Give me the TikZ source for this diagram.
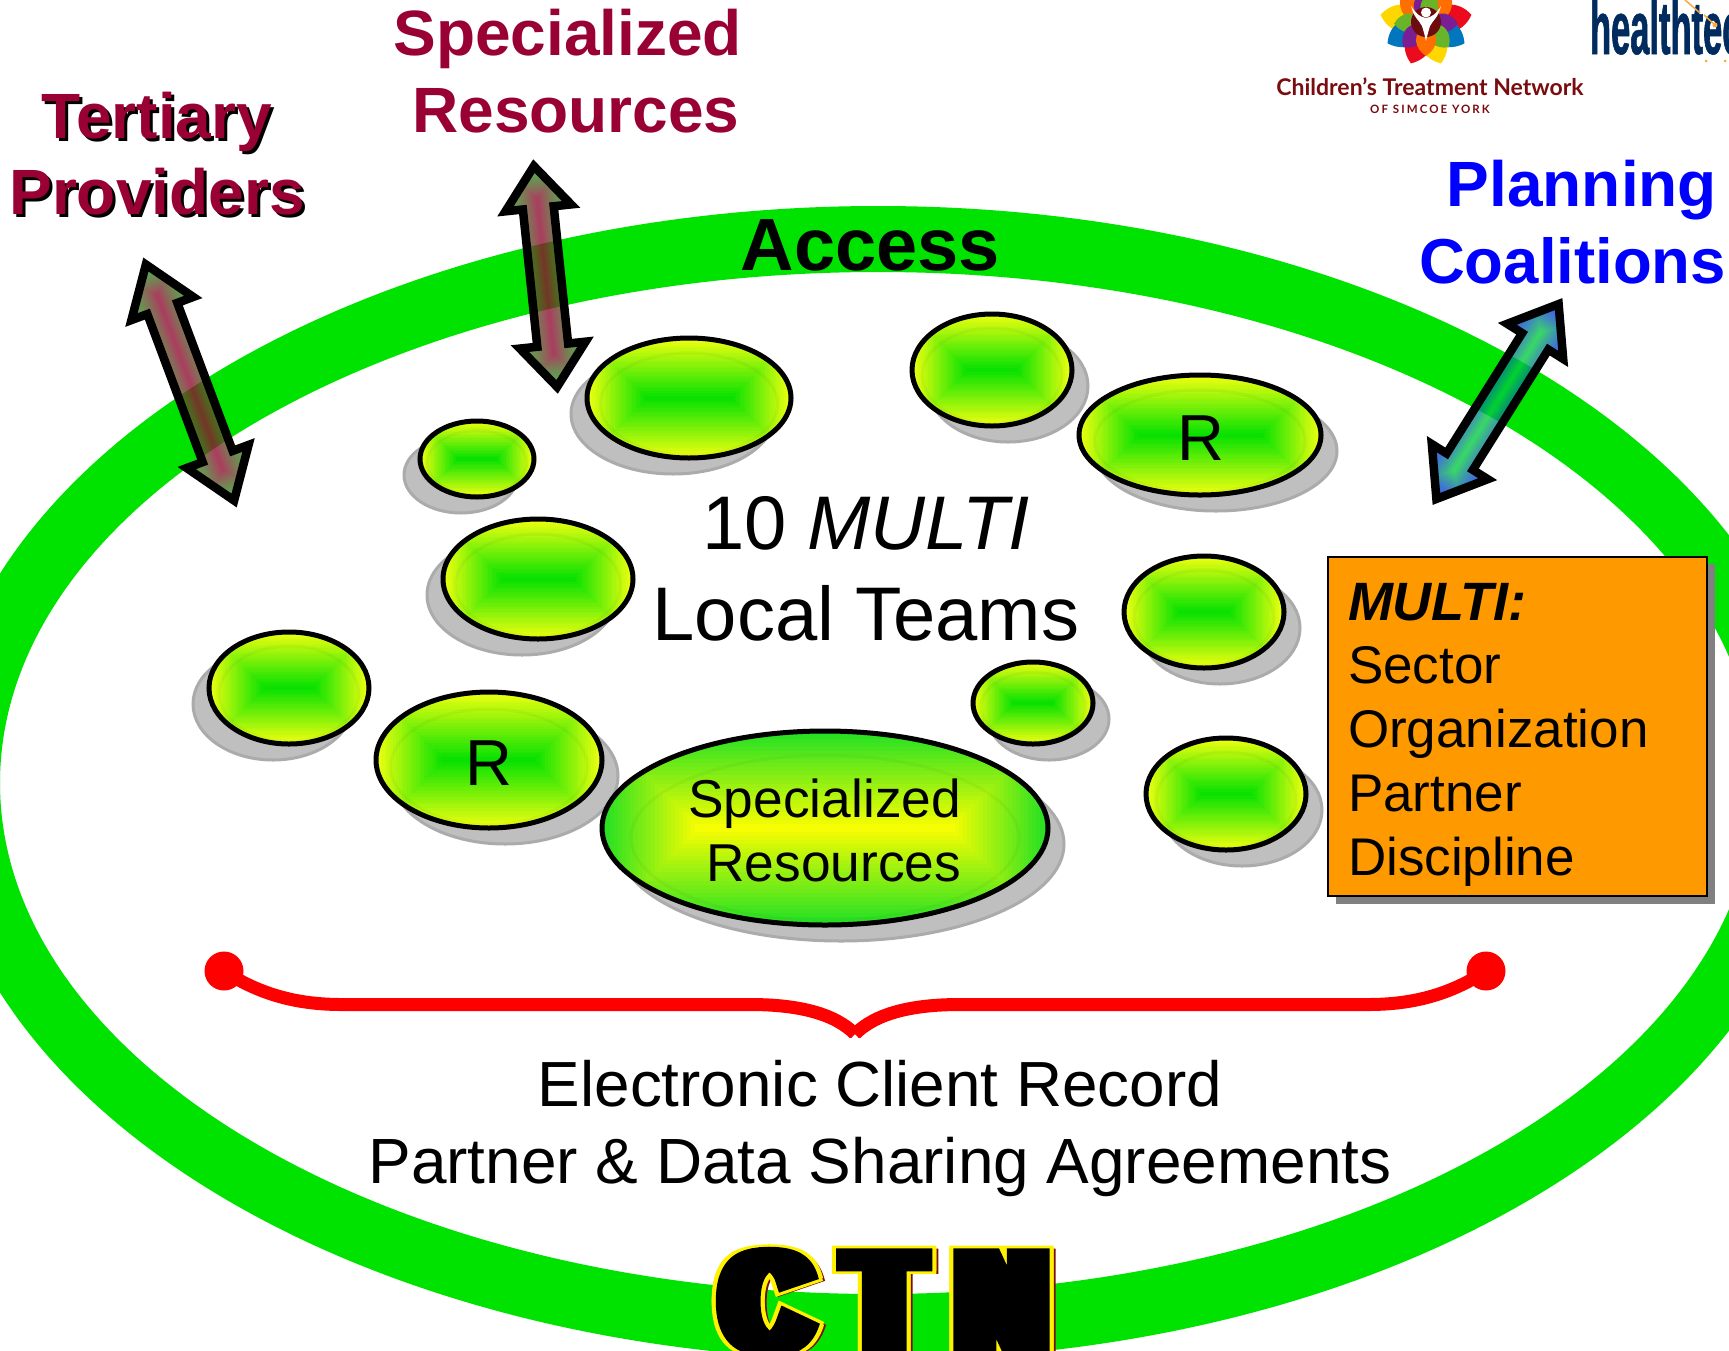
\documentclass[tikz,border=0pt]{standalone}
\usepackage{fontspec}
\usepackage{graphicx}
\usetikzlibrary{shapes.geometric}
\setmainfont{Liberation Sans}
\newfontfamily\logofont{Lato}
\newfontfamily\logospaced[LetterSpace=18]{Lato}
\newfontfamily\ctnfont[FakeStretch=0.2,LetterSpace=6.9,BoldFeatures={FakeBold=4.8}]{Liberation Sans}
\newfontfamily\ctnfontY[FakeStretch=0.2,LetterSpace=6.9,BoldFeatures={FakeBold=6.2}]{Liberation Sans}
\newfontfamily\htfont[FakeStretch=0.46,BoldFeatures={FakeBold=0.8}]{Liberation Sans}
\definecolor{ringgreen}{RGB}{0,226,0}
\definecolor{maroon}{RGB}{153,0,51}
\definecolor{ovalY}{RGB}{238,255,16}
\definecolor{ovalG}{RGB}{0,224,0}
\definecolor{capG}{RGB}{36,224,36}
\definecolor{capY}{RGB}{255,255,0}
\definecolor{boxorange}{RGB}{255,153,0}
\definecolor{arrG}{RGB}{40,150,30}
\definecolor{arrB}{RGB}{15,40,240}
\definecolor{arrC}{RGB}{0,215,50}
\definecolor{logored}{RGB}{122,12,16}
\definecolor{htnavy}{RGB}{0,43,95}
\definecolor{htorange}{RGB}{250,170,60}
\definecolor{fblue}{RGB}{0,118,190}
\definecolor{fpurple}{RGB}{122,30,150}
\definecolor{fgreen}{RGB}{105,180,40}
\definecolor{forange}{RGB}{255,110,0}
\definecolor{fyellow}{RGB}{255,215,0}
\definecolor{fred}{RGB}{235,10,30}
\tikzset{
  txt/.style={inner sep=0pt,outer sep=0pt,anchor=base},
  ovalline/.style={draw=black,line width=5pt,ellipse,inner sep=0pt,outer sep=0pt},
  ovalshadow/.style={fill=black!25,draw=black!33,line width=3pt},
  arrowline/.style={draw=black,line width=8.5pt,miter limit=10},
  redbrace/.style={draw=red,line width=13pt},
  reddot/.style={circle,fill=red,inner sep=0pt,minimum size=39pt},
}
% name, cx, cy, rx, ry, shadow dx, edge colour, centre colour
\newcommand{\ovalblob}[8]{%
  \fill[ovalshadow] ({#2+#6},{#3+16}) ellipse [x radius=#4pt,y radius=#5pt];
  \begin{scope}
    \clip (#2,#3) ellipse [x radius=#4pt,y radius=#5pt];
    \foreach \i in {0,...,24}{%
      \pgfmathsetmacro\dd{#5*\i/24}%
      \pgfmathsetmacro\pp{100*\i/24}%
      \fill[#8!\pp!#7] ({#2-#4+\dd},{#3-#5+\dd}) rectangle ({#2+#4-\dd},{#3+#5-\dd});
    }
    \draw[black,opacity=.03,line width=3pt] (#2,{#3+#5*.1}) ellipse [x radius=#4*.87pt,y radius=#5*.85pt];
  \end{scope}
  \node[ovalline,minimum width=#4*2pt,minimum height=#5*2pt] (#1) at (#2,#3) {};
}
% cx, cy, angle, half length, head length, head half width, shaft half width, colours via \arrA \arrZ
\newcommand{\dblarrow}[7]{%
  \begin{scope}[shift={(#1,#2)},rotate=#3]
    \pgfmathsetmacro\xb{#4-#5}%
    \def\arrowpoly{(#4,0)--(\xb,#6)--(\xb,#7)--(-\xb,#7)--(-\xb,#6)--(-#4,0)--(-\xb,-#6)--(-\xb,-#7)--(\xb,-#7)--(\xb,-#6)--cycle}%
    \begin{scope}[transparency group,opacity=.78]
      \clip \arrowpoly;
      \foreach \i in {0,...,18}{%
        \pgfmathsetmacro\dd{#6*\i/18}%
        \pgfmathsetmacro\pp{100*(\i/18)^1.5}%
        \fill[\arrZ!\pp!\arrA] ({-#4+\dd},{-#6+\dd}) rectangle ({#4-\dd},{#6-\dd});
      }
    \end{scope}
    \path[arrowline] \arrowpoly;
  \end{scope}
}
\newcommand{\petal}[3]{% colour, angle, length
  \fill[#1,rotate=#2] (3,0) .. controls (#3*.35,#3*.44) and (#3*.78,#3*.34) .. (#3,0) .. controls (#3*.78,-#3*.34) and (#3*.35,-#3*.44) .. (3,0);
}
\begin{document}
\begin{tikzpicture}[x=1pt,y=-1pt]
\useasboundingbox (0,0) rectangle (1729,1350);
\clip (0,0) rectangle (1729,1350);
\fill[white] (0,0) rectangle (1729,1350);
% ring
\fill[ringgreen,even odd rule] (878,783) ellipse [x radius=942pt,y radius=577pt]
   (878,783) ellipse [x radius=878pt,y radius=511pt];
% block arrows
\def\arrA{arrG}\def\arrZ{maroon}
\dblarrow{190}{382.5}{-69.5}{126}{47}{33}{16}
\dblarrow{545.5}{276.5}{-84}{111}{42}{33}{15.5}
\def\arrA{arrB}\def\arrZ{arrC}
\dblarrow{1497.5}{401.5}{-122.1}{115}{44}{33}{15.5}
% ovals
\ovalblob{o1}{477}{459}{57}{38}{-16}{ovalY}{ovalG}
\ovalblob{o2}{689}{398}{102}{60}{-16}{ovalY}{ovalG}
\ovalblob{o3}{992}{370}{80}{56}{16}{ovalY}{ovalG}
\ovalblob{o4}{1200}{435}{121}{60}{16}{ovalY}{ovalG}
\ovalblob{o5}{538}{579}{95}{60}{-16}{ovalY}{ovalG}
\ovalblob{o6}{1204}{612}{80}{56}{16}{ovalY}{ovalG}
\ovalblob{o7}{1033}{703}{60}{41}{16}{ovalY}{ovalG}
\ovalblob{o8}{1226}{794}{80}{56}{16}{ovalY}{ovalG}
\ovalblob{o9}{289}{688}{80}{56}{-16}{ovalY}{ovalG}
\ovalblob{o10}{489}{760}{113}{68}{16}{ovalY}{ovalG}
\ovalblob{o11}{825}{828}{223}{97}{16}{capG}{capY}
\node[txt] (r1) at (1201,460) {\fontsize{65}{65}\selectfont R};
\node[txt] (r2) at (489,785) {\fontsize{65}{65}\selectfont R};
\node[txt,anchor=base east] (sr1) at (961,817) {\fontsize{53.3}{53}\selectfont Specialized};
\node[txt,anchor=base east] (sr2) at (961,881) {\fontsize{53.3}{53}\selectfont Resources};
% headings
\node[txt,black] (tp1s) at (160,141) {\fontsize{64}{64}\selectfont\bfseries Tertiary};
\node[txt,maroon] (tp1) at (157,138) {\fontsize{64}{64}\selectfont\bfseries Tertiary};
\node[txt,black] (tp2s) at (160,217) {\fontsize{64}{64}\selectfont\bfseries Providers};
\node[txt,maroon] (tp2) at (157,214) {\fontsize{64}{64}\selectfont\bfseries Providers};
\node[txt,maroon,anchor=base east] (sp1) at (742,55) {\fontsize{64}{64}\selectfont\bfseries Specialized};
\node[txt,maroon,anchor=base east] (sp2) at (739.5,132) {\fontsize{64}{64}\selectfont\bfseries Resources};
\node[txt,blue,anchor=base east] (pc1) at (1717,206) {\fontsize{64}{64}\selectfont\bfseries Planning};
\node[txt,blue,anchor=base east] (pc2) at (1726,283) {\fontsize{63.5}{64}\selectfont\bfseries Coalitions};
\node[txt] (acc) at (870.5,270) {\fontsize{74}{74}\selectfont\bfseries Access};
\node[txt] (c1) at (866,549) {\fontsize{76}{76}\selectfont 10 \itshape MULTI};
\node[txt] (c2) at (866,640) {\fontsize{76}{76}\selectfont Local Teams};
% MULTI box
\fill[black!50] (1335.5,564) rectangle (1714.5,904);
\node[draw=black,line width=2pt,fill=boxorange,inner sep=0pt,outer sep=0pt,minimum width=379pt,minimum height=339pt,anchor=center] (mbox) at (1517.5,726) {};
\node[txt,anchor=base west] (m1) at (1348,620) {\fontsize{54}{53}\selectfont\bfseries\itshape MULTI:};
\node[txt,anchor=base west] (m2) at (1348,683) {\fontsize{53}{53}\selectfont Sector};
\node[txt,anchor=base west] (m3) at (1348,747) {\fontsize{53}{53}\selectfont Organization};
\node[txt,anchor=base west] (m4) at (1348,811) {\fontsize{53}{53}\selectfont Partner};
\node[txt,anchor=base west] (m5) at (1348,875) {\fontsize{53}{53}\selectfont Discipline};
% brace
\node[reddot] (dl) at (224,971) {};
\node[reddot] (dr) at (1486,971) {};
\coordinate (tip) at (855,1034);
\begin{scope}
  \clip (0,0) rectangle (1729,1037);
  \draw[redbrace] (dl.center) .. controls (265,998) and (305,1004.5) .. (342,1004.5) -- (750,1004.5) .. controls (800,1004.5) and (835,1014) .. (tip);
  \draw[redbrace] (dr.center) .. controls (1445,998) and (1405,1004.5) .. (1368,1004.5) -- (960,1004.5) .. controls (910,1004.5) and (875,1014) .. (tip);
\end{scope}
\node[txt] (e1) at (880,1106) {\fontsize{63.8}{64}\selectfont Electronic Client Record};
\node[txt] (e2) at (880,1183) {\fontsize{63.9}{64}\selectfont Partner \& Data Sharing Agreements};
% CTN
\node[txt,anchor=base west,color=logored] (ctns) at (727,1353) {\scalebox{4}[1]{\fontsize{145}{145}\ctnfontY\bfseries CTN}};
\node[txt,anchor=base west,color=yellow] (ctny1) at (725,1350) {\scalebox{4}[1]{\fontsize{145}{145}\ctnfontY\bfseries CTN}};
\node[txt,anchor=base west,color=yellow] (ctny2) at (725,1353) {\scalebox{4}[1]{\fontsize{145}{145}\ctnfontY\bfseries CTN}};
\node[txt,anchor=base west,color=black] (ctn) at (725,1351.5) {\scalebox{4}[1]{\fontsize{145}{145}\ctnfont\bfseries CTN}};
% flower logo
\begin{scope}[shift={(1426,22)},y=1pt]
  \petal{fred}{9}{46}
  \petal{fred}{250}{44}
  \petal{fyellow}{171}{46}
  \petal{fyellow}{290}{44}
  \petal{fblue}{209}{44}
  \petal{fblue}{331}{44}
  \petal{forange}{135}{36}
  \petal{forange}{45}{36}
  \petal{fpurple}{102}{30}
  \petal{fgreen}{78}{30}
  \petal{fgreen}{183}{32}
  \petal{fpurple}{-3}{32}
  \petal{fpurple}{228}{34}
  \petal{fgreen}{-48}{34}
  \petal{forange}{-90}{34}
  \fill[logored!90!black] (0,0) circle [radius=15pt];
  \fill[white] (-15,16) .. controls (-12,4) and (-7,2) .. (-4,-4) .. controls (-2,-10) and (-1,-15) .. (0,-19) .. controls (1,-15) and (2,-10) .. (4,-4) .. controls (7,2) and (12,4) .. (15,16) .. controls (10,8) and (6,5) .. (0,4) .. controls (-6,5) and (-10,8) .. (-15,16) -- cycle;
  \fill[white] (0,9.5) circle [radius=5pt];
\end{scope}
\node[txt,logored] (lg1) at (1430,95) {\fontsize{23}{23}\selectfont\logofont\bfseries Children’s Treatment Network};
\node[txt,logored] (lg2) at (1430,113) {\fontsize{11.5}{11.5}\selectfont\logospaced\bfseries OF SIMCOE YORK};
% healthtec logo
\node[txt,anchor=base west,htnavy] (ht) at (1590,54) {\fontsize{75}{75}\selectfont\htfont\bfseries healthtec};
\draw[htorange,line width=1.5pt] (1685,0) -- (1700,13) (1704,15) -- (1715,25);
\fill[htorange] (1715,25) circle [radius=2.5pt] (1706,61) circle [radius=1.5pt] (1725,61) circle [radius=1.5pt];
\end{tikzpicture}
\end{document}
